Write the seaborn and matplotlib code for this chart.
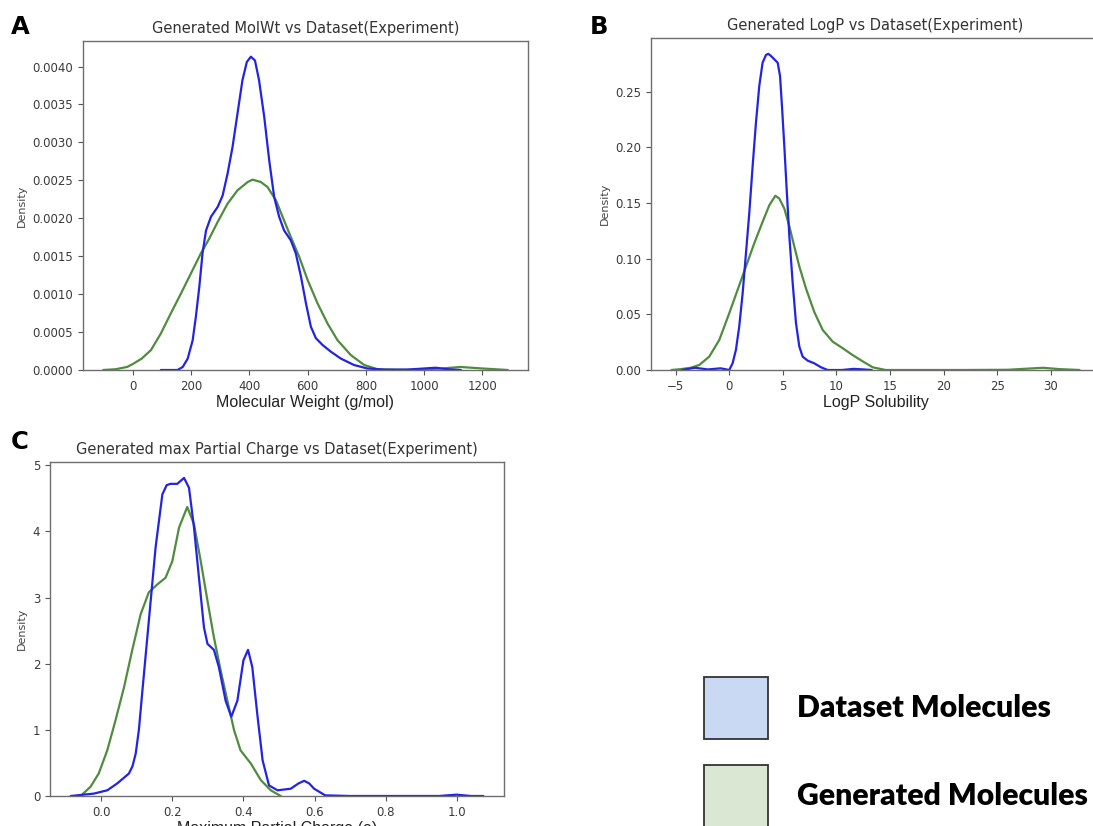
import matplotlib
matplotlib.use("Agg")
import matplotlib.pyplot as plt
import seaborn as sns
import pandas as pd
from matplotlib.patches import Rectangle

# ---------------- data ----------------
# Panel A: Molecular weight densities
mw_dataset_x = [96, 153, 171, 188, 205, 216, 228, 239, 251, 268, 291, 308, 325, 342, 359, 376, 391, 405,
                419, 433, 451, 468, 485, 502, 519, 542, 559, 577, 594, 611, 628, 651, 680, 714, 759, 805,
                862, 940, 1000, 1040, 1080, 1126]
mw_dataset_y = [0, 0, 0.00004, 0.00015, 0.00039, 0.0007, 0.0011, 0.00154, 0.00184, 0.00202, 0.00215,
                0.0023, 0.00259, 0.00294, 0.00338, 0.00382, 0.00406, 0.00413, 0.00408, 0.00382, 0.00333,
                0.00276, 0.00228, 0.00202, 0.00184, 0.00171, 0.00154, 0.00123, 0.00088, 0.00057,
                0.00042, 0.00033, 0.00024, 0.00015, 0.000066, 0.00002, 0.000005, 0.000005, 0.00002,
                0.00003, 0.00001, 0]
mw_generated_x = [-102, -60, -20, 0, 30, 62, 96, 130, 165, 199, 233, 262, 291, 325, 359, 394, 411, 439,
                  462, 491, 514, 542, 571, 600, 634, 668, 702, 748, 794, 840, 900, 980, 1060, 1125, 1200,
                  1287]
mw_generated_y = [0, 0.00001, 0.00004, 0.00008, 0.00015, 0.000263, 0.000482, 0.000746, 0.001009,
                  0.001272, 0.001535, 0.001732, 0.001952, 0.002193, 0.002368, 0.002478, 0.002509,
                  0.002478, 0.002412, 0.002237, 0.002018, 0.001754, 0.001491, 0.001184, 0.000877,
                  0.000614, 0.000395, 0.000197, 0.000066, 0.00001, 0.000003, 0.000003, 0.00002,
                  0.00004, 0.00002, 0]

# Panel B: LogP densities
logp_dataset_x = [-4.4, -3.2, -2.0, -1.4, -0.8, 0, 0.31, 0.62, 0.93, 1.25, 1.56, 1.87, 2.18, 2.49, 2.8,
                  3.11, 3.43, 3.64, 3.9, 4.21, 4.52, 4.74, 4.92, 5.14, 5.36, 5.61, 5.92, 6.23, 6.54,
                  6.85, 7.32, 7.94, 8.57, 9.19, 10.5, 11.6, 12.4, 13.3]
logp_dataset_y = [0, 0.002, 0.0005, 0.001, 0.0015, 0, 0.006, 0.018, 0.039, 0.069, 0.105, 0.141, 0.183,
                  0.222, 0.255, 0.276, 0.283, 0.284, 0.282, 0.279, 0.276, 0.264, 0.237, 0.201, 0.162,
                  0.12, 0.078, 0.042, 0.021, 0.012, 0.0084, 0.006, 0.0024, 0, 0, 0.001, 0.0006, 0]
logp_generated_x = [-5.4, -4.5, -3.6, -2.8, -1.87, -0.93, 0, 0.78, 1.56, 2.34, 3.11, 3.74, 4.3, 4.67,
                    5.14, 5.61, 6.07, 6.54, 7.17, 7.94, 8.72, 9.65, 10.6, 11.5, 12.5, 13.4, 14.6, 18,
                    22, 26, 27.8, 29.3, 30.8, 32.7]
logp_generated_y = [0, 0.0008, 0.002, 0.0045, 0.012, 0.027, 0.051, 0.072, 0.093, 0.114, 0.133, 0.148,
                    0.1565, 0.154, 0.145, 0.129, 0.111, 0.093, 0.073, 0.052, 0.036, 0.0255, 0.0195,
                    0.0135, 0.0075, 0.0024, 0, 0, 0, 0.0002, 0.0012, 0.002, 0.0008, 0]

# Panel C: max partial charge densities
pc_dataset_x = [-0.086, -0.021, 0.017, 0.045, 0.078, 0.088, 0.097, 0.106, 0.115, 0.134, 0.153, 0.172,
                0.184, 0.195, 0.214, 0.233, 0.247, 0.261, 0.275, 0.289, 0.299, 0.317, 0.331, 0.350,
                0.366, 0.383, 0.400, 0.413, 0.425, 0.439, 0.454, 0.472, 0.496, 0.533, 0.555, 0.571,
                0.585, 0.599, 0.63, 0.7, 0.85, 0.95, 1.0, 1.04, 1.075]
pc_dataset_y = [0, 0.036, 0.086, 0.19, 0.34, 0.45, 0.64, 1.0, 1.54, 2.65, 3.76, 4.56, 4.70, 4.72, 4.72,
                4.81, 4.66, 4.06, 3.30, 2.55, 2.30, 2.21, 1.95, 1.44, 1.20, 1.44, 2.05, 2.21, 1.95,
                1.24, 0.54, 0.16, 0.086, 0.11, 0.19, 0.23, 0.19, 0.11, 0.01, 0, 0, 0, 0.02, 0, 0]
pc_generated_x = [-0.058, -0.03, -0.007, 0.017, 0.04, 0.064, 0.087, 0.111, 0.134, 0.158, 0.181, 0.2,
                  0.219, 0.242, 0.261, 0.28, 0.299, 0.317, 0.336, 0.355, 0.374, 0.392, 0.421, 0.449,
                  0.477, 0.505]
pc_generated_y = [0, 0.14, 0.34, 0.69, 1.14, 1.64, 2.2, 2.75, 3.08, 3.2, 3.3, 3.55, 4.06, 4.37, 4.11,
                  3.55, 2.95, 2.4, 1.9, 1.44, 0.99, 0.69, 0.49, 0.24, 0.086, 0]

series_names = ["Dataset Molecules", "Generated Molecules"]
line_colors = ["#2323e6", "#4f8c3e"]
box_colors = ["#c9d8f3", "#d9e7d3"]

titles = ["Generated MolWt vs Dataset(Experiment)",
          "Generated LogP vs Dataset(Experiment)",
          "Generated max Partial Charge vs Dataset(Experiment)"]
xlabels = ["Molecular Weight (g/mol)", "LogP Solubility", "Maximum Partial Charge (e)"]
panel_letters = ["A", "B", "C"]

# ---------------- figure ----------------
sns.set_style("ticks")
plt.rcParams["font.family"] = ["DejaVu Sans"]
plt.rcParams["axes.edgecolor"] = "#6e6e6e"
plt.rcParams["xtick.color"] = "#555555"
plt.rcParams["ytick.color"] = "#555555"
plt.rcParams["xtick.labelcolor"] = "#3a3a3a"
plt.rcParams["ytick.labelcolor"] = "#3a3a3a"
plt.rcParams["lines.solid_joinstyle"] = "round"

W, H = 1093, 826
fig = plt.figure(figsize=(W / 100, H / 100), dpi=100)

def fbox(l, t, r, b):
    return [l / W, 1 - b / H, (r - l) / W, (b - t) / H]

axes_boxes = [fbox(83, 41, 528, 370), fbox(651, 38, 1100, 370), fbox(50, 462, 504, 796)]
panels = [
    (mw_dataset_x, mw_dataset_y, mw_generated_x, mw_generated_y),
    (logp_dataset_x, logp_dataset_y, logp_generated_x, logp_generated_y),
    (pc_dataset_x, pc_dataset_y, pc_generated_x, pc_generated_y),
]

for i, (dx, dy, gx, gy) in enumerate(panels):
    ax = fig.add_axes(axes_boxes[i])
    df = pd.concat([
        pd.DataFrame({"x": dx, "Density": dy, "series": series_names[0]}),
        pd.DataFrame({"x": gx, "Density": gy, "series": series_names[1]}),
    ])
    sns.lineplot(data=df, x="x", y="Density", hue="series",
                 palette=dict(zip(series_names, line_colors)),
                 hue_order=[series_names[1], series_names[0]],
                 estimator=None, sort=False, legend=False, linewidth=1.6, ax=ax)
    ax.margins(x=0.05, y=0.05)
    ax.autoscale_view()
    ax.set_ylim(bottom=0)
    ax.set_title(titles[i], fontsize=10.5, color="#333333", pad=6)
    ax.set_xlabel(xlabels[i], fontsize=11.5, family=["Liberation Sans"], color="#222222", labelpad=2)
    ax.set_ylabel("Density", fontsize=8, color="#444444")
    ax.tick_params(labelsize=8.5, length=3.5, width=0.8)
    for s in ax.spines.values():
        s.set_linewidth(1.0)

# panel letters
letter_pos = [(11, 27.5), (590, 26.5), (11, 442)]
for letter, (px, py) in zip(panel_letters, letter_pos):
    fig.text(px / W, 1 - py / H, letter, fontsize=17.5, fontweight="heavy", va="center", ha="left",
             color="black")

# legend boxes
legend_rows = [(677, 739), (765, 827)]
for name, color, (t, b) in zip(series_names, box_colors, legend_rows):
    fig.patches.append(Rectangle((704 / W, 1 - b / H), 64 / W, (b - t) / H, transform=fig.transFigure,
                                 facecolor=color, edgecolor="#333333", linewidth=1.3))
    fig.text(797 / W, 1 - ((t + b) / 2) / H, name, fontsize=21.7, fontweight="heavy",
             family=["Lato", "DejaVu Sans"], va="center", ha="left", color="black")

fig.savefig("out.png", dpi=100)
